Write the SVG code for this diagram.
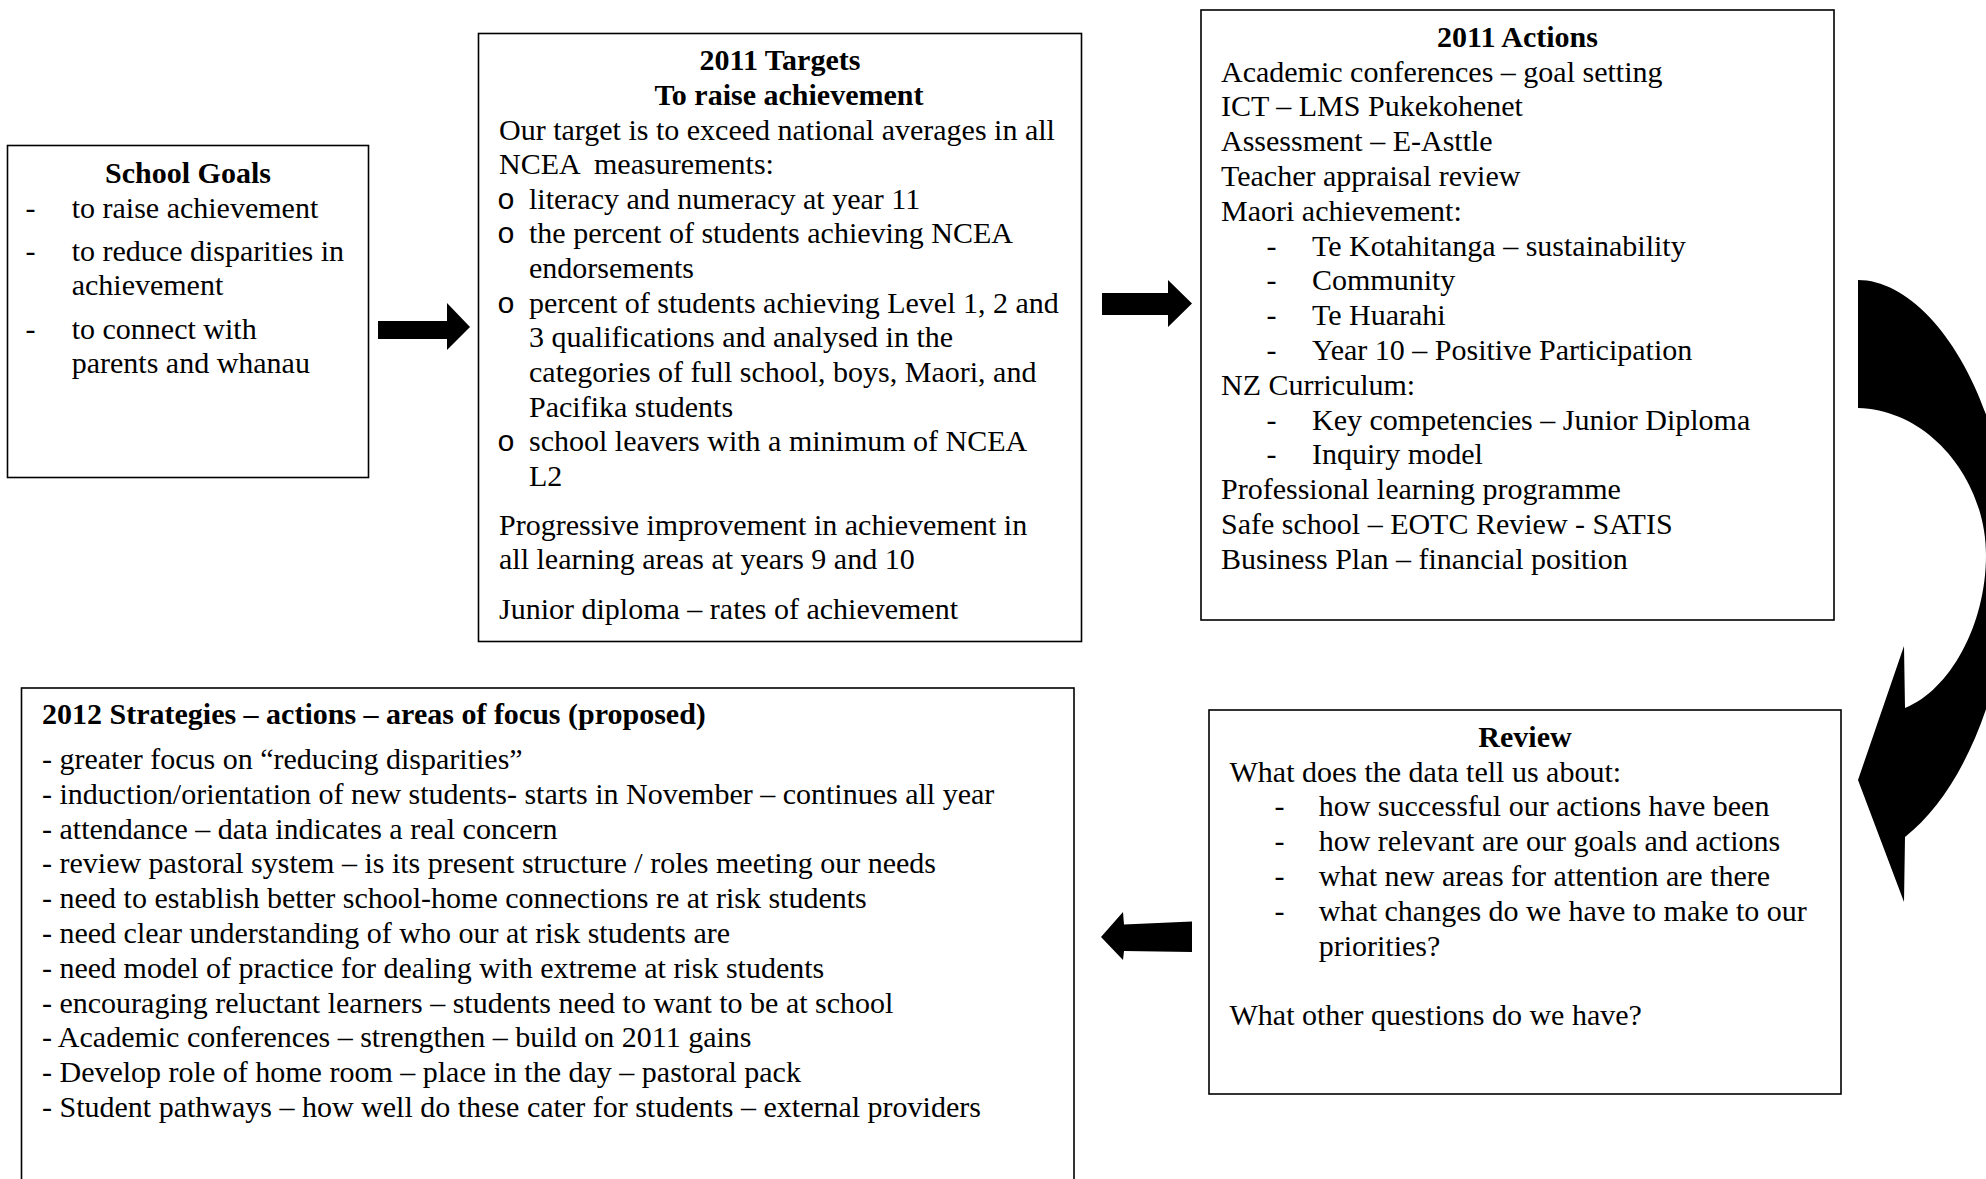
<svg xmlns="http://www.w3.org/2000/svg" width="1986" height="1179" viewBox="0 0 1986 1179">
<style>
text{font-family:"Liberation Serif","Times New Roman",serif;font-size:30px;fill:#000}
.b{font-weight:bold}
.m{text-anchor:middle}
.o{font-family:"Liberation Mono","Courier New",monospace}
.box{fill:#fff;stroke:#000;stroke-width:1.6}
.arr{fill:#000;stroke:none}
</style>
<rect width="1986" height="1179" fill="#fff"/>
<g id="connectors">
<polygon class="arr" points="378,321 447,321 447,303 470,327 447,350 447,339 378,339"/>
<polygon class="arr" points="1102,293 1168,293 1168,280 1192,303.5 1168,327 1168,315 1102,315"/>
<polygon class="arr" points="1192,921.5 1124,924.5 1123,912 1101,937 1123,960 1124,951 1192,952"/>
<path class="arr" d="M1858,280 C1930,280 2010,400 2010,560 C2010,680 1965,790 1905,837 L1904,902 L1858,780 L1904,646 L1905,708 C1950,690 1986,625 1986,555 C1986,480 1930,410 1858,408 Z"/>
</g>
<g id="school-goals">
<rect class="box" x="7.5" y="145.5" width="361" height="332"/>
<text class="b m" x="188" y="183">School Goals</text>
<text x="25.5" y="218">-</text>
<text x="71.7" y="218">to raise achievement</text>
<text x="25.5" y="261">-</text>
<text x="71.7" y="261">to reduce disparities in</text>
<text x="71.7" y="295">achievement</text>
<text x="25.5" y="338.5">-</text>
<text x="71.7" y="338.5">to connect with</text>
<text x="71.7" y="373">parents and whanau</text>
</g>
<g id="targets-2011">
<rect class="box" x="478.5" y="33.5" width="603" height="608"/>
<text class="b m" x="780" y="70">2011 Targets</text>
<text class="b m" x="789" y="105">To raise achievement</text>
<text x="499" y="139.5">Our target is to exceed national averages in all</text>
<text x="499" y="174" xml:space="preserve">NCEA  measurements:</text>
<text class="o" x="497" y="208.5">o</text>
<text x="529" y="208.5">literacy and numeracy at year 11</text>
<text class="o" x="497" y="243.3">o</text>
<text x="529" y="243.3">the percent of students achieving NCEA</text>
<text x="529" y="278">endorsements</text>
<text class="o" x="497" y="312.7">o</text>
<text x="529" y="312.7">percent of students achieving Level 1, 2 and</text>
<text x="529" y="347.4">3 qualifications and analysed in the</text>
<text x="529" y="382">categories of full school, boys, Maori, and</text>
<text x="529" y="416.6">Pacifika students</text>
<text class="o" x="497" y="451">o</text>
<text x="529" y="451">school leavers with a minimum of NCEA</text>
<text x="529" y="485.5">L2</text>
<text x="499" y="534.5">Progressive improvement in achievement in</text>
<text x="499" y="569">all learning areas at years 9 and 10</text>
<text x="499" y="618.5">Junior diploma – rates of achievement</text>
</g>
<g id="actions-2011">
<rect class="box" x="1201" y="10" width="633" height="610"/>
<text class="b m" x="1517.5" y="46.7">2011 Actions</text>
<text x="1221" y="81.5">Academic conferences – goal setting</text>
<text x="1221" y="116.3">ICT – LMS Pukekohenet</text>
<text x="1221" y="151.1">Assessment – E-Asttle</text>
<text x="1221" y="185.9">Teacher appraisal review</text>
<text x="1221" y="220.7">Maori achievement:</text>
<text x="1266.5" y="255.5">-</text>
<text x="1312" y="255.5">Te Kotahitanga – sustainability</text>
<text x="1266.5" y="290.3">-</text>
<text x="1312" y="290.3">Community</text>
<text x="1266.5" y="325.1">-</text>
<text x="1312" y="325.1">Te Huarahi</text>
<text x="1266.5" y="359.9">-</text>
<text x="1312" y="359.9">Year 10 – Positive Participation</text>
<text x="1221" y="394.7">NZ Curriculum:</text>
<text x="1266.5" y="429.5">-</text>
<text x="1312" y="429.5">Key competencies – Junior Diploma</text>
<text x="1266.5" y="464.3">-</text>
<text x="1312" y="464.3">Inquiry model</text>
<text x="1221" y="499.1">Professional learning programme</text>
<text x="1221" y="533.9">Safe school – EOTC Review - SATIS</text>
<text x="1221" y="568.7">Business Plan – financial position</text>
</g>
<g id="review">
<rect class="box" x="1209" y="710" width="632" height="384"/>
<text class="b m" x="1525" y="746.7">Review</text>
<text x="1229.5" y="781.5">What does the data tell us about:</text>
<text x="1274.5" y="816.3">-</text>
<text x="1318.7" y="816.3">how successful our actions have been</text>
<text x="1274.5" y="851.1">-</text>
<text x="1318.7" y="851.1">how relevant are our goals and actions</text>
<text x="1274.5" y="885.9">-</text>
<text x="1318.7" y="885.9">what new areas for attention are there</text>
<text x="1274.5" y="920.7">-</text>
<text x="1318.7" y="920.7">what changes do we have to make to our</text>
<text x="1318.7" y="955.5">priorities?</text>
<text x="1229.5" y="1025.1">What other questions do we have?</text>
</g>
<g id="strategies-2012">
<rect class="box" x="21.5" y="688" width="1052.5" height="520"/>
<text class="b" x="42" y="724">2012 Strategies – actions – areas of focus (proposed)</text>
<text x="42" y="769">- greater focus on “reducing disparities”</text>
<text x="42" y="803.8">- induction/orientation of new students- starts in November – continues all year</text>
<text x="42" y="838.6">- attendance – data indicates a real concern</text>
<text x="42" y="873.4">- review pastoral system – is its present structure / roles meeting our needs</text>
<text x="42" y="908.2">- need to establish better school-home connections re at risk students</text>
<text x="42" y="943">- need clear understanding of who our at risk students are</text>
<text x="42" y="977.8">- need model of practice for dealing with extreme at risk students</text>
<text x="42" y="1012.6">- encouraging reluctant learners – students need to want to be at school</text>
<text x="42" y="1047.4">- Academic conferences – strengthen – build on 2011 gains</text>
<text x="42" y="1082.2">- Develop role of home room – place in the day – pastoral pack</text>
<text x="42" y="1117">- Student pathways – how well do these cater for students – external providers</text>
</g>
</svg>
